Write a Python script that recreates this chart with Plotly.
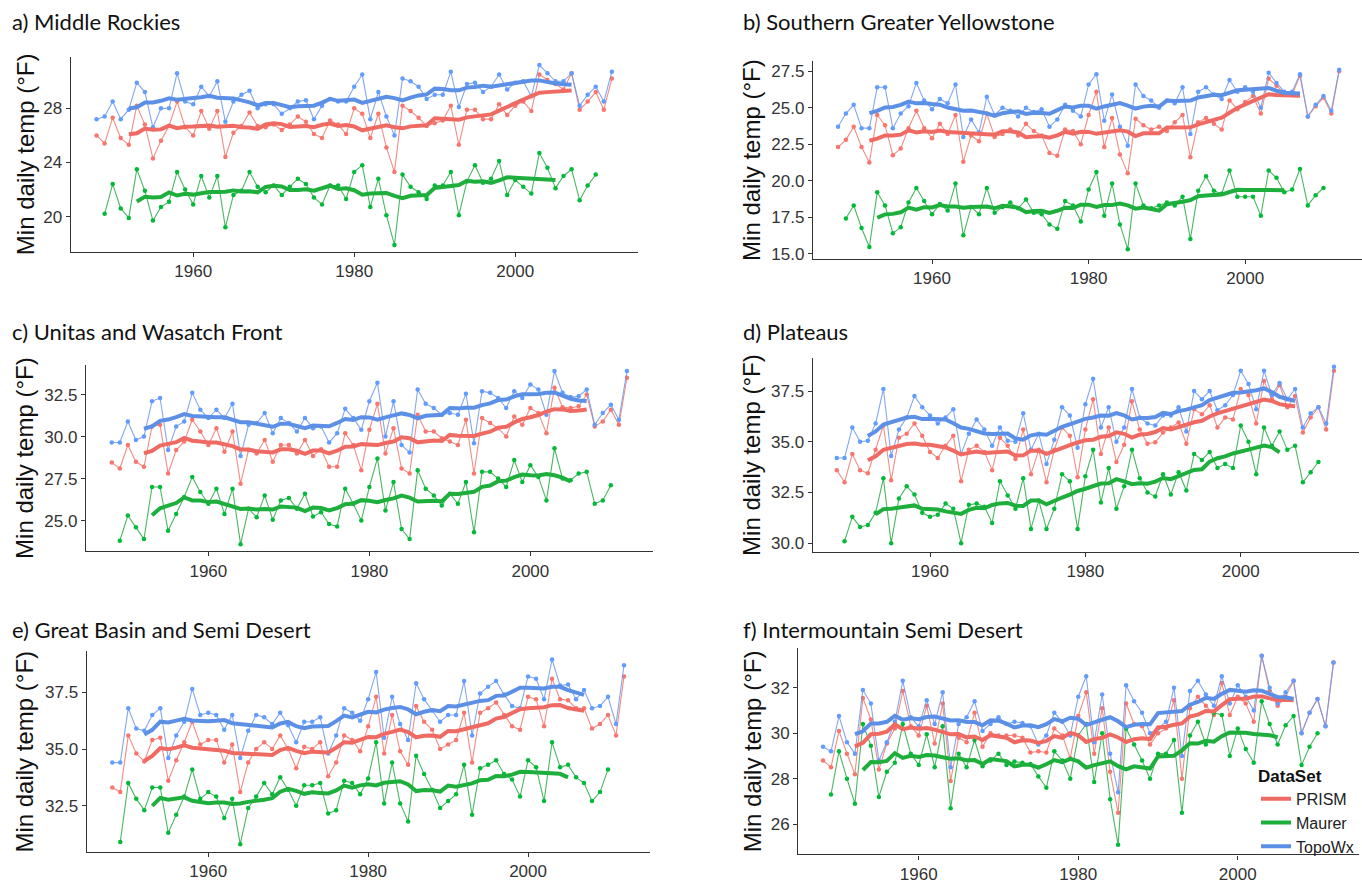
import pandas as pd
import plotly.graph_objects as go

# ---------------------------------------------------------------- data
YEARS = list(range(1948, 2013))          # PRISM and TopoWx
YEARS_MAURER = list(range(1949, 2011))   # Maurer

# a) Middle Rockies
A_PRISM = [26.0, 25.4,
           27.3, 25.8, 25.3, 28.2, 26.8, 24.3, 25.6, 26.7, 28.5, 26.6,
           26.0, 27.8, 26.5, 27.8, 24.4, 26.2, 26.7, 27.7, 26.7, 26.6,
           26.8, 26.4, 26.8, 27.4, 27.0, 26.1, 25.8, 27.1, 26.8, 26.1,
           28.0, 27.6, 25.8, 27.6, 25.1, 23.3, 28.2, 27.8, 27.3, 26.7,
           26.9, 27.1, 28.2, 25.3, 27.9, 27.9, 27.2, 27.2, 28.3, 27.5,
           28.2, 28.5, 27.8, 30.5, 30.1, 29.8, 29.4, 30.6, 27.9, 28.5,
           29.2, 27.9, 30.2]
A_TOPOWX = [27.2, 27.4,
            28.5, 27.2, 27.9, 29.9, 29.2, 26.6, 28.0, 28.0, 30.6, 28.5,
            28.3, 29.6, 28.9, 30.0, 27.0, 28.5, 29.0, 29.3, 28.0, 28.3,
            28.3, 27.6, 28.0, 28.5, 28.6, 27.2, 28.2, 28.7, 28.5, 28.5,
            29.6, 30.5, 27.2, 29.2, 27.4, 26.0, 30.2, 30.0, 29.6, 28.7,
            29.0, 29.0, 30.7, 28.1, 29.8, 29.9, 29.2, 29.6, 30.5, 29.4,
            29.9, 30.0, 28.9, 31.2, 30.6, 30.0, 30.0, 30.6, 28.2, 29.0,
            29.6, 28.5, 30.7]
A_MAURER = [20.2,
            22.4, 20.6, 19.9, 23.5, 21.9, 19.7, 20.7, 21.1, 23.3, 22.0,
            20.9, 23.0, 21.4, 23.0, 19.2, 21.6, 21.9, 23.3, 22.2, 21.8,
            22.3, 21.6, 22.2, 22.8, 22.4, 21.4, 20.9, 22.3, 22.3, 21.3,
            23.3, 23.8, 20.7, 22.8, 20.1, 17.9, 23.1, 22.2, 21.8, 21.3,
            22.3, 22.3, 23.3, 20.1, 22.6, 23.8, 22.5, 22.8, 24.1, 21.6,
            22.7, 22.2, 21.7, 24.7, 23.6, 22.1, 23.0, 23.5, 21.2, 22.3,
            23.1]

# b) Southern Greater Yellowstone
B_PRISM = [22.3, 22.8,
           23.7, 22.3, 21.25, 24.5, 23.8, 21.75, 22.2, 23.6, 24.8, 23.6,
           22.9, 23.9, 23.2, 24.5, 21.3, 23.1, 22.7, 24.6, 23.0, 23.2,
           23.5, 23.1, 23.9, 23.4, 23.1, 21.9, 21.7, 23.5, 23.4, 22.5,
           24.5, 26.1, 22.3, 24.3, 21.8, 20.5, 24.25, 23.8, 23.5, 23.7,
           23.4, 24.0, 24.5, 21.6, 24.0, 24.3, 23.9, 23.5, 25.5, 24.9,
           25.4, 25.8, 24.6, 27.0, 26.5, 26.0, 25.9, 27.2, 24.4, 25.1,
           25.7, 24.6, 27.5]
B_TOPOWX = [23.7, 24.6,
            25.2, 23.6, 23.6, 26.4, 26.4, 23.6, 24.6, 25.1, 26.7, 25.5,
            24.9, 25.6, 25.3, 26.6, 23.0, 24.2, 23.3, 25.75, 24.5, 25.0,
            24.8, 24.4, 25.0, 24.7, 24.9, 23.7, 24.2, 25.2, 24.8, 24.4,
            26.6, 27.3, 24.1, 25.9, 23.7, 22.4, 26.6, 25.8, 25.5, 25.0,
            25.5, 25.3, 26.4, 23.2, 26.1, 26.4, 25.9, 25.6, 26.9, 26.1,
            26.4, 26.1, 25.0, 27.4, 26.7, 26.1, 26.1, 27.3, 24.4, 25.2,
            25.8, 24.8, 27.6]
B_MAURER = [17.4,
            18.3, 16.75, 15.45, 19.2, 18.3, 16.4, 16.8, 18.5, 19.5, 18.6,
            17.7, 18.4, 17.95, 19.8, 16.25, 18.2, 17.7, 19.5, 17.8, 18.2,
            18.5, 18.1, 18.7, 17.8, 17.7, 17.0, 16.7, 18.6, 18.3, 17.2,
            19.4, 20.6, 17.6, 19.8, 17.0, 15.3, 19.8, 18.3, 18.1, 18.3,
            18.5, 18.3, 18.9, 16.0, 19.3, 20.3, 19.3, 19.1, 20.7, 18.9,
            18.9, 18.9, 17.6, 20.7, 20.2, 19.2, 19.4, 20.8, 18.3, 19.0,
            19.5]

# c) Unitas and Wasatch Front
C_PRISM = [28.45, 28.1,
           29.5, 28.5, 28.2, 30.6, 30.7, 27.8, 29.2, 29.7, 31.0, 30.3,
           29.5, 30.5, 29.1, 30.3, 27.2, 29.2, 29.0, 29.8, 28.5, 29.5,
           29.5, 29.0, 29.8, 28.85, 29.25, 28.2, 28.2, 30.2, 29.5, 28.0,
           30.4, 31.95, 29.0, 30.5, 28.1, 27.8, 31.3, 30.3, 30.3, 29.9,
           29.7, 29.5, 31.0, 27.8, 31.1, 30.8, 30.5, 30.0, 31.2, 30.7,
           31.7, 31.4, 30.2, 32.9, 31.75, 31.7, 31.8, 32.5, 30.6, 30.9,
           31.6, 30.7, 33.5]
C_TOPOWX = [29.65, 29.65,
            30.9, 29.8, 30.0, 32.1, 32.3, 29.2, 30.6, 30.9, 32.6, 31.6,
            31.1, 31.6, 31.1, 31.95, 28.85, 30.7, 30.8, 31.4, 30.2, 31.1,
            30.8, 30.3, 31.1, 30.5, 30.6, 29.65, 30.2, 31.65, 31.1, 30.4,
            32.1, 33.2, 30.0, 32.1, 29.5, 29.05, 32.8, 31.95, 31.7, 31.3,
            31.4, 31.3, 32.55, 29.6, 32.7, 32.6, 32.3, 31.7, 32.7, 32.3,
            33.1, 32.8, 31.3, 33.9, 32.6, 32.35, 32.4, 32.8, 30.7, 31.4,
            31.9, 31.0, 33.9]
C_MAURER = [23.8,
            25.3, 24.6, 23.9, 27.0, 27.0, 24.4, 25.4, 26.4, 27.6, 26.7,
            26.0, 26.9, 25.4, 26.9, 23.6, 25.7, 25.2, 26.5, 25.05, 26.2,
            26.35, 25.7, 26.6, 25.25, 25.5, 24.8, 24.65, 26.9, 26.0, 25.0,
            27.0, 28.7, 25.6, 27.3, 24.5, 23.9, 28.0, 26.9, 26.5, 25.9,
            26.6, 26.0, 27.3, 24.3, 27.9, 27.9, 27.5, 27.0, 28.6, 27.3,
            28.3, 27.6, 26.2, 29.3, 27.5, 27.4, 27.8, 27.9, 26.0, 26.2,
            27.1]

# d) Plateaus
D_PRISM = [33.6, 33.0,
           34.4, 33.6, 33.45, 34.6, 35.8, 33.1, 35.2, 35.4, 35.9, 35.3,
           34.5, 34.2, 34.8, 35.3, 33.05, 34.6, 34.8, 34.5, 33.6, 35.2,
           34.8, 34.15, 35.6, 33.4, 34.6, 33.0, 34.6, 35.7, 35.3, 33.25,
           35.6, 37.1, 34.4, 35.7, 34.0, 34.85, 37.0, 35.6, 34.9, 34.97,
           35.45, 35.7, 35.95, 34.9, 36.6, 36.35, 36.8, 35.7, 36.2, 36.1,
           37.6, 37.3, 35.9, 38.0, 37.1, 37.8, 36.7, 37.25, 35.45, 36.2,
           36.7, 35.6, 38.5]
D_TOPOWX = [34.2, 34.2,
            35.7, 35.0, 35.05, 35.9, 37.6, 34.3, 35.6, 36.2, 37.25, 36.7,
            36.3, 35.9, 36.2, 36.6, 34.4, 35.4, 36.1, 35.6, 34.8, 35.7,
            35.05, 35.0, 36.4, 34.6, 35.4, 33.9, 35.1, 36.7, 36.3, 34.7,
            36.85, 38.1, 35.7, 36.7, 35.0, 35.7, 37.6, 36.2, 35.9, 35.8,
            36.3, 36.3, 36.7, 35.5, 37.5, 37.1, 37.5, 36.55, 36.8, 37.3,
            38.5, 37.85, 36.6, 38.5, 37.3, 37.9, 37.1, 37.6, 35.7, 36.4,
            36.7, 35.9, 38.7]
D_MAURER = [30.1,
            31.3, 30.8, 30.9, 31.5, 33.2, 30.0, 32.2, 32.8, 32.4, 31.5,
            31.3, 31.4, 31.95, 31.7, 30.0, 31.9, 31.95, 31.8, 31.0, 33.05,
            32.35, 31.7, 33.2, 30.7, 32.1, 30.7, 31.7, 33.4, 33.05, 30.7,
            33.3, 34.6, 32.0, 33.7, 31.7, 32.8, 34.6, 33.2, 32.5, 32.3,
            33.4, 32.4, 33.5, 32.6, 34.4, 34.1, 34.5, 33.7, 33.9, 33.7,
            35.8, 35.0, 33.4, 35.7, 34.8, 35.5, 34.6, 34.8, 33.0, 33.5,
            34.0]

# e) Great Basin and Semi Desert
E_PRISM = [33.3, 33.1,
           35.6, 34.8, 34.45, 35.4, 35.5, 33.6, 34.5, 35.3, 36.2, 35.2,
           35.4, 35.4, 34.4, 35.2, 33.1, 34.4, 35.0, 35.3, 35.0, 35.6,
           35.0, 34.15, 35.1, 35.0, 35.3, 33.8, 34.4, 35.6, 35.4, 34.9,
           36.0, 37.3, 34.8, 36.5, 34.9, 34.3, 36.9, 36.2, 35.85, 35.0,
           35.2, 35.4, 36.6, 34.4, 36.6, 36.8, 37.05, 36.5, 36.0, 35.85,
           37.3, 37.2, 36.0, 38.1, 37.2, 37.15, 36.8, 36.8, 35.9, 36.1,
           36.5, 35.6, 38.2]
E_TOPOWX = [34.4, 34.4,
            36.8, 35.9, 35.8, 36.5, 36.8, 34.6, 35.6, 36.2, 37.65, 36.5,
            36.6, 36.5, 35.85, 36.5, 34.6, 35.8, 36.5, 36.4, 36.1, 36.6,
            36.05, 35.3, 36.2, 36.2, 36.4, 34.8, 35.6, 36.8, 36.6, 36.25,
            37.2, 38.4, 35.5, 37.3, 36.1, 35.4, 37.9, 37.2, 36.7, 36.2,
            36.5, 36.5, 38.0, 35.6, 37.45, 37.75, 38.0, 37.4, 36.9, 36.8,
            38.2, 38.1, 37.2, 38.95, 37.8, 37.85, 37.2, 37.6, 36.8, 36.9,
            37.3, 36.1, 38.7]
E_MAURER = [30.9,
            33.5, 32.8, 32.3, 33.3, 33.3, 31.3, 32.1, 32.9, 34.1, 32.8,
            33.1, 32.9, 31.95, 32.8, 30.8, 32.4, 32.9, 33.5, 33.0, 33.75,
            33.2, 32.5, 33.4, 33.4, 33.5, 32.15, 32.3, 33.6, 33.5, 33.0,
            33.7, 35.3, 32.6, 34.4, 32.6, 31.8, 34.7, 33.9, 33.2, 32.4,
            32.7, 33.0, 34.3, 32.1, 34.15, 34.3, 34.5, 33.9, 33.65, 32.9,
            34.5, 34.2, 32.7, 35.3, 34.2, 34.3, 33.75, 33.5, 32.7, 33.1,
            34.1]

# f) Intermountain Semi Desert
F_PRISM = [28.8, 28.5,
           30.1, 29.1, 28.2, 31.55, 30.6, 28.4, 29.55, 30.2, 31.85, 30.3,
           29.9, 31.2, 29.55, 31.3, 27.9, 29.8, 29.6, 30.9, 29.4, 30.0,
           29.9, 29.9, 29.9, 29.8, 29.15, 29.2, 29.15, 30.2, 29.9, 28.9,
           30.75, 31.8, 29.1, 31.1, 28.3, 26.5, 31.3, 30.4, 30.3, 29.5,
           30.0, 30.2, 31.45, 28.0, 31.1, 31.6, 31.2, 30.8, 32.2, 30.8,
           31.6, 31.3, 30.5, 33.4, 31.85, 31.2, 31.6, 32.3, 30.0, 30.9,
           31.5, 30.3, 33.1]
F_TOPOWX = [29.4, 29.2,
            30.75, 29.6, 29.1, 31.9, 31.3, 28.8, 29.6, 30.5, 32.3, 30.7,
            30.3, 31.45, 30.4, 31.8, 28.5, 30.4, 30.7, 31.4, 30.1, 30.4,
            30.7, 30.4, 30.5, 30.45, 30.3, 29.5, 29.9, 30.9, 30.5, 29.9,
            31.6, 32.5, 29.6, 31.7, 29.1, 27.4, 32.1, 31.4, 30.9, 30.0,
            30.2, 30.5, 32.0, 29.0, 31.85, 32.3, 31.7, 31.2, 32.5, 31.3,
            32.1, 31.6, 31.0, 33.4, 32.0, 31.3, 31.8, 32.3, 30.0, 30.9,
            31.5, 30.3, 33.1]
F_MAURER = [27.3,
            29.2, 28.0, 26.9, 30.4, 29.45, 27.2, 28.3, 28.7, 30.4, 29.1,
            28.6, 29.95, 28.5, 30.3, 26.7, 29.1, 28.5, 29.7, 28.55, 28.8,
            29.1, 28.6, 28.75, 28.7, 28.65, 28.1, 27.6, 29.2, 28.8, 28.0,
            29.9, 30.4, 27.85, 30.0, 27.1, 25.1, 30.2, 29.5, 28.8, 28.0,
            29.1, 29.1, 29.7, 26.5, 29.9, 30.5, 29.5, 30.9, 30.8, 29.0,
            30.2, 29.3, 28.7, 31.4, 30.4, 29.5, 30.35, 30.75, 28.6, 29.4,
            30.0]

PANEL_TITLES = ["a) Middle Rockies", "b) Southern Greater Yellowstone",
                "c) Unitas and Wasatch Front", "d) Plateaus",
                "e) Great Basin and Semi Desert", "f) Intermountain Semi Desert"]
X_TICKS = [1960, 1980, 2000]
Y_TICKS = [[20, 24, 28], [15, 17.5, 20, 22.5, 25, 27.5], [25, 27.5, 30, 32.5],
           [30, 32.5, 35, 37.5], [32.5, 35, 37.5], [26, 28, 30, 32]]
Y_TITLE = "Min daily temp (°F)"

PANEL_DATA = [
    {"PRISM": A_PRISM, "Maurer": A_MAURER, "TopoWx": A_TOPOWX},
    {"PRISM": B_PRISM, "Maurer": B_MAURER, "TopoWx": B_TOPOWX},
    {"PRISM": C_PRISM, "Maurer": C_MAURER, "TopoWx": C_TOPOWX},
    {"PRISM": D_PRISM, "Maurer": D_MAURER, "TopoWx": D_TOPOWX},
    {"PRISM": E_PRISM, "Maurer": E_MAURER, "TopoWx": E_TOPOWX},
    {"PRISM": F_PRISM, "Maurer": F_MAURER, "TopoWx": F_TOPOWX},
]
SERIES_YEARS = {"PRISM": YEARS, "Maurer": YEARS_MAURER, "TopoWx": YEARS}

# ---------------------------------------------------------------- style
W, H = 1362, 890
COLORS = {"PRISM": "#F8766D", "Maurer": "#00BA38", "TopoWx": "#619CFF"}
RAW_LINE = {"PRISM": "rgba(240,120,112,0.85)", "Maurer": "rgba(40,170,70,0.85)",
            "TopoWx": "rgba(110,150,235,0.85)"}
SMOOTH_COLORS = {"PRISM": "#EF6A62", "Maurer": "#1DAE3C", "TopoWx": "#5C90E6"}
SMOOTH_WINDOW = 9
SMOOTH_SPAN = {"PRISM": (1952, 2007), "Maurer": (1953, 2005), "TopoWx": (1952, 2007)}
AXIS_COLOR = "#333333"
TICK_FONT = dict(family="Liberation Sans, Arial, sans-serif", size=17, color="#333333")

# panel boxes in pixels: left, right, top, bottom; axis ranges
PANEL_BOX = [(70.8, 637.6, 57.0, 253.0), (813.0, 1362.0, 61.7, 260.0),
             (86.0, 652.7, 366.7, 554.3), (812.7, 1358.8, 360.0, 555.0),
             (86.7, 649.6, 655.0, 856.7), (798.3, 1359.0, 651.7, 859.3)]
X_RANGES = [(1944.8, 2015.2), (1944.8, 2014.92), (1944.8, 2015.2),
            (1944.9, 2015.2), (1944.8, 2015.2), (1944.9, 2015.2)]
Y_RANGES = [(17.41, 31.82), (14.66, 28.18), (23.18, 34.28),
            (29.57, 39.13), (30.46, 39.31), (24.67, 33.74)]
Y_FORMATS = ["d", ".1f", ".1f", ".1f", ".1f", "d"]
TITLE_POS = [(10, 22), (741, 22), (10, 333), (741, 333), (10, 633), (741, 633)]
YTITLE_X = [25, 752, 25, 752, 25, 752]

fig = go.Figure()
layout = dict(width=W, height=H, margin=dict(l=0, r=0, t=0, b=0),
              paper_bgcolor="white", plot_bgcolor="white", annotations=[])

ORDER = ["PRISM", "Maurer", "TopoWx"]
for i, data in enumerate(PANEL_DATA):
    n = i + 1
    xa, ya = f"x{n}", f"y{n}"
    # raw annual values
    for name in ORDER:
        fig.add_trace(go.Scatter(
            x=SERIES_YEARS[name], y=data[name], mode="lines+markers",
            line=dict(color=RAW_LINE[name], width=1.1),
            marker=dict(color=COLORS[name], size=4.5),
            xaxis=xa, yaxis=ya, showlegend=False, legendgroup=name, name=name))
    # running means
    for name in ORDER:
        s = pd.Series(data[name], index=SERIES_YEARS[name]).rolling(
            SMOOTH_WINDOW, center=True).mean()
        lo, hi = SMOOTH_SPAN[name]
        s = s[(s.index >= lo) & (s.index <= hi)]
        fig.add_trace(go.Scatter(
            x=list(s.index), y=list(s.values), mode="lines",
            line=dict(color=SMOOTH_COLORS[name], width=4),
            xaxis=xa, yaxis=ya, legendgroup=name, name=name,
            showlegend=(n == 6)))

    l, r, t, b = PANEL_BOX[i]
    key = "" if n == 1 else str(n)
    layout[f"xaxis{key}"] = dict(
        domain=[l / W, r / W], range=list(X_RANGES[i]), anchor=ya,
        tickvals=X_TICKS, showline=True, linecolor=AXIS_COLOR, linewidth=1.4,
        ticks="outside", ticklen=4, tickcolor=AXIS_COLOR, showgrid=False,
        zeroline=False, tickfont=TICK_FONT)
    layout[f"yaxis{key}"] = dict(
        domain=[1 - b / H, 1 - t / H], range=list(Y_RANGES[i]), anchor=xa,
        tickvals=Y_TICKS[i], tickformat=Y_FORMATS[i], showline=True,
        linecolor=AXIS_COLOR, linewidth=1.4, ticks="outside", ticklen=4,
        tickcolor=AXIS_COLOR, showgrid=False, zeroline=False, tickfont=TICK_FONT)

    tx, ty = TITLE_POS[i]
    layout["annotations"].append(dict(
        text=PANEL_TITLES[i], xref="paper", yref="paper", x=tx / W, y=1 - ty / H,
        xanchor="left", yanchor="middle", showarrow=False,
        font=dict(family="Lato, Open Sans, sans-serif", size=22, color="#111111")))
    layout["annotations"].append(dict(
        text=Y_TITLE, xref="paper", yref="paper", x=YTITLE_X[i] / W,
        y=1 - (t + b) / 2 / H, xanchor="center", yanchor="middle", textangle=-90,
        showarrow=False,
        font=dict(family="Liberation Sans, Arial, sans-serif", size=24, color="#111111")))

layout["legend"] = dict(
    x=1256 / W, y=1 - 764 / H, xanchor="left", yanchor="top",
    bgcolor="rgba(255,255,255,0)", traceorder="normal", tracegroupgap=0,
    itemwidth=30,
    title=dict(text="<b>DataSet</b>",
               font=dict(family="Liberation Sans, Arial, sans-serif", size=17, color="#111111")),
    font=dict(family="Liberation Sans, Arial, sans-serif", size=16, color="#222222"))
fig.update_layout(**layout)
fig.write_html("out.html")
